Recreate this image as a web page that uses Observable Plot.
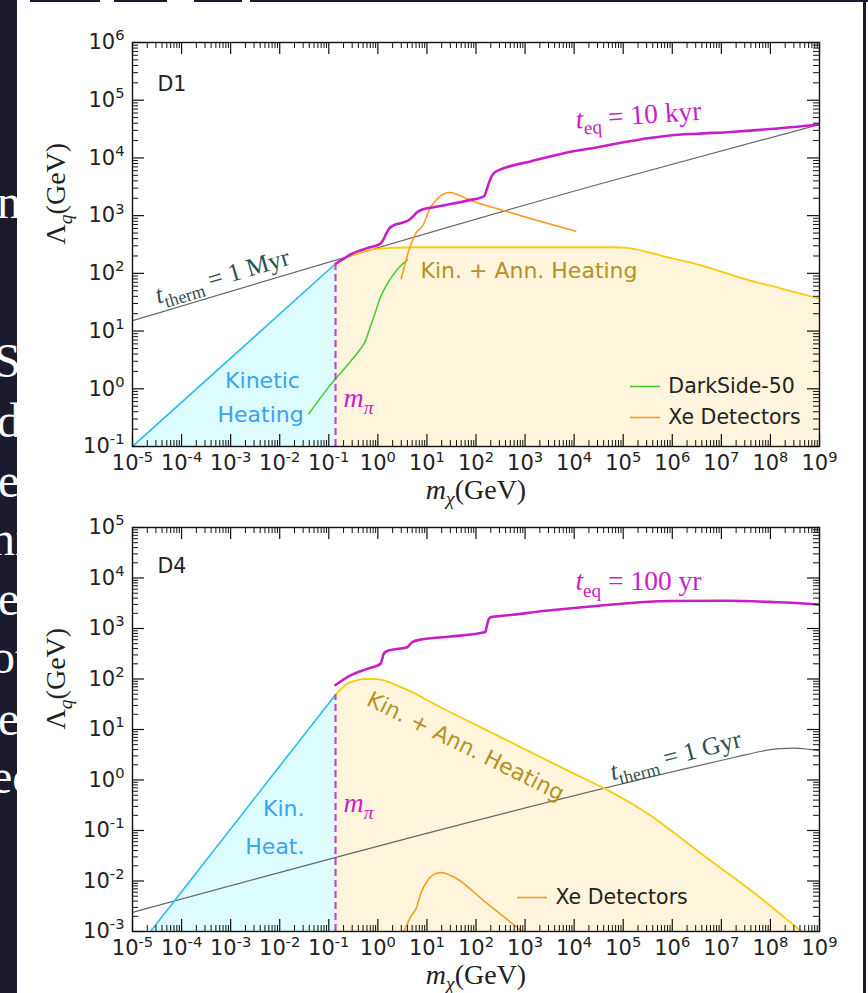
<!DOCTYPE html>
<html>
<head>
<meta charset="utf-8">
<script src="https://cdn.jsdelivr.net/npm/d3@7"></script>
<script src="https://cdn.jsdelivr.net/npm/@observablehq/plot@0.6"></script>
<style>
  html, body { margin: 0; padding: 0; background: #fff; overflow: hidden; width: 868px; height: 993px; }
  #wrap { position: relative; width: 868px; height: 993px; }
  #wrap > svg { position: absolute; left: 0; }
</style>
</head>
<body>
<div id="wrap"></div>
<script>
// ---- tick labels (decade exponents) ----
const X_EXP = d3.range(-5, 10);        // 10^-5 … 10^9 GeV
const Y_EXP_D1 = d3.range(-1, 7);      // 10^-1 … 10^6 GeV
const Y_EXP_D4 = d3.range(-3, 6);      // 10^-3 … 10^5 GeV

// pion mass, log10(m/GeV)
const LOG_M_PI = -0.863;

// ---- curves, as [log10(mχ / GeV), log10(Λq / GeV)] ----
// operator D1
const d1_teq = [
  [-0.863, 2.166], [-0.7, 2.25], [-0.557, 2.327], [-0.35, 2.40], [-0.217, 2.437],
  [0.054, 2.515], [0.11, 2.58], [0.16, 2.67], [0.224, 2.77], [0.32, 2.83],
  [0.46, 2.87], [0.63, 2.92], [0.72, 2.99], [0.80, 3.06], [0.92, 3.11],
  [1.14, 3.147], [1.41, 3.19], [1.82, 3.26], [2.17, 3.34], [2.21, 3.43],
  [2.26, 3.56], [2.31, 3.67], [2.37, 3.74], [2.47, 3.79], [2.63, 3.84],
  [3.11, 3.94], [3.79, 4.08], [4.5, 4.19], [5.01, 4.27], [5.5, 4.34],
  [5.96, 4.39], [6.5, 4.42], [7.19, 4.45], [8.0, 4.50], [9.0, 4.58]
];
const d1_therm = [[-5, 1.18], [4.54, 3.553], [9, 4.58]];
const d1_kin = [[-5, -1], [LOG_M_PI, 2.166]];
const d1_kinAnn = [
  [-0.863, 2.166], [-0.7, 2.25], [-0.49, 2.32], [-0.3, 2.38], [-0.15, 2.41],
  [0.26, 2.44], [0.8, 2.452], [4.8, 2.452], [5.08, 2.44], [5.5, 2.37],
  [5.9, 2.28], [6.58, 2.14], [7.46, 1.906], [8.2, 1.74], [9, 1.565]
];
const d1_darkside = [
  [-1.407, -0.433], [-1.1, -0.08], [-0.863, 0.173], [-0.6, 0.43], [-0.354, 0.693],
  [-0.25, 0.83], [-0.18, 1.01], [-0.06, 1.3], [0.054, 1.588], [0.18, 1.8],
  [0.325, 1.99], [0.45, 2.12], [0.6, 2.235]
];
const d1_xenon = [
  [0.475, 1.906], [0.55, 2.15], [0.63, 2.397], [0.767, 2.686], [0.937, 2.86],
  [1.04, 3.09], [1.21, 3.29], [1.35, 3.38], [1.47, 3.40], [1.6, 3.37],
  [1.82, 3.29], [2.63, 3.07], [4.03, 2.73]
];

// operator D4
const d4_teq = [
  [-0.863, 1.88], [-0.557, 2.07], [-0.217, 2.20], [0.054, 2.30], [0.09, 2.40],
  [0.12, 2.50], [0.18, 2.55], [0.29, 2.58], [0.6, 2.63], [0.65, 2.68],
  [0.70, 2.73], [0.87, 2.78], [1.48, 2.84], [2.19, 2.93], [2.22, 3.05],
  [2.26, 3.19], [2.32, 3.23], [2.43, 3.24], [3.52, 3.36], [4.5, 3.45],
  [5.35, 3.52], [6.0, 3.545], [7.12, 3.55], [8.14, 3.52], [8.6, 3.50], [9, 3.475]
];
const d4_therm = [[-5, -2.62], [7.3, 0.455], [7.8, 0.565], [8.2, 0.62], [8.5, 0.63], [8.8, 0.605], [9, 0.584]];
const d4_kin = [[-4.633, -3], [LOG_M_PI, 1.69]];
const d4_kinAnn = [
  [-0.863, 1.69], [-0.625, 1.905], [-0.45, 1.97], [-0.286, 2.0], [-0.014, 1.996],
  [0.2, 1.95], [0.394, 1.87], [0.7, 1.74], [1.14, 1.51], [2.5, 0.85],
  [3.86, 0.19], [4.7, -0.21], [5.0, -0.37], [5.49, -0.66], [6.0, -1.02],
  [6.51, -1.40], [7.87, -2.39], [8.61, -2.98], [8.7, -3.05]
];
const d4_xenon = [
  [0.53, -3.0], [0.664, -2.72], [0.79, -2.52], [0.87, -2.26], [0.97, -2.06],
  [1.07, -1.92], [1.2, -1.845], [1.3, -1.835], [1.41, -1.86], [1.55, -1.92],
  [2.23, -2.45], [2.94, -3.0]
];

// ---- styling ----
const C = {
  teq: "#c81ec8", mpi: "#cc44cc", kin: "#2bbcf0", kinFill: "#dcfcfd",
  ann: "#fbcb0a", annFill: "#fff5dc", therm: "#666666", thermText: "#2f4f4f",
  green: "#44cc33", orange: "#ff9a22", kinText: "#3aa2f2", annText: "#b8901e"
};
const SERIF = "'Liberation Serif', 'DejaVu Serif', serif";
const SANS = "'DejaVu Sans', sans-serif";
const W = 868, ML = 132, MR = 49;

const toPt = ([a, b]) => ({m: 10 ** a, L: 10 ** b});
const P = v => 10 ** v;

function panel(cfg) {
  const iw = W - ML - MR;
  const ih = cfg.height - cfg.mt - cfg.mb;
  const yExp = cfg.yExp;
  const yMin = P(yExp[0]), yMax = P(yExp[yExp.length - 1]);
  const xMajor = X_EXP.map(P), yMajor = yExp.map(P);
  const minors = ex => ex.slice(0, -1).flatMap(e => d3.range(2, 10).map(k => k * P(e)));
  const xMinor = minors(X_EXP), yMinor = minors(yExp);
  const MAJ = 12, MIN = 6;
  const fmt = d => `10^{${Math.round(Math.log10(d))}}`;
  const line = (data, stroke, w, extra = {}) =>
    Plot.line(data.map(toPt), {x: "m", y: "L", stroke, strokeWidth: w, clip: true, curve: "monotone-x", ...extra});

  const marks = [
    // shaded regions
    Plot.areaY(cfg.kinAnn.map(toPt), {x: "m", y1: yMin, y2: "L", fill: C.annFill, clip: true, curve: "monotone-x"}),
    Plot.areaY(cfg.kin.map(toPt), {x: "m", y1: yMin, y2: "L", fill: C.kinFill, clip: true}),
    // thermalisation contour
    line(cfg.therm, C.therm, 1.2),
    // heating reach
    line(cfg.kin, C.kin, 1.6, {curve: "linear"}),
    line(cfg.kinAnn, C.ann, 1.8),
    // direct detection limits
    ...(cfg.darkside ? [line(cfg.darkside, C.green, 1.5)] : []),
    line(cfg.xenon, C.orange, 1.6),
    // equilibration contour
    line(cfg.teq, C.teq, 2.6),
    // pion mass
    Plot.ruleX([P(LOG_M_PI)], {y1: yMin, y2: P(cfg.kin[1][1]), stroke: C.mpi, strokeWidth: 2.2, strokeDasharray: "7,4"}),
    // in-pointing ticks on all four sides
    Plot.tickX(xMajor, {insetTop: ih - MAJ, stroke: "#111", strokeWidth: 1.2}),
    Plot.tickX(xMinor, {insetTop: ih - MIN, stroke: "#111", strokeWidth: 1}),
    Plot.tickX(xMajor, {insetBottom: ih - MAJ, stroke: "#111", strokeWidth: 1.2}),
    Plot.tickX(xMinor, {insetBottom: ih - MIN, stroke: "#111", strokeWidth: 1}),
    Plot.tickY(yMajor, {insetRight: iw - MAJ, stroke: "#111", strokeWidth: 1.2}),
    Plot.tickY(yMinor, {insetRight: iw - MIN, stroke: "#111", strokeWidth: 1}),
    Plot.tickY(yMajor, {insetLeft: iw - MAJ, stroke: "#111", strokeWidth: 1.2}),
    Plot.tickY(yMinor, {insetLeft: iw - MIN, stroke: "#111", strokeWidth: 1}),
    Plot.frame({stroke: "#111", strokeWidth: 1.4}),
    Plot.axisX({ticks: xMajor, tickSize: 0, tickPadding: 9, tickFormat: fmt, label: null, fontSize: 21}),
    Plot.axisY({ticks: yMajor, tickSize: 0, tickPadding: 8, tickFormat: fmt, label: null, fontSize: 21}),
    Plot.text(["$m$_{$χ$}(GeV)"], {frameAnchor: "bottom", dy: 52, fontFamily: SERIF, fontSize: 28, fill: "#222"}),
    Plot.text(["Λ_{$q$}(GeV)"], {frameAnchor: "left", dx: -76, rotate: -90, fontFamily: SERIF, fontSize: 28, fill: "#222"}),
    ...cfg.labels
  ];

  return Plot.plot({
    width: W, height: cfg.height,
    marginLeft: ML, marginRight: MR, marginTop: cfg.mt, marginBottom: cfg.mb,
    x: {type: "log", domain: [P(X_EXP[0]), P(X_EXP[X_EXP.length - 1])]},
    y: {type: "log", domain: [yMin, yMax]},
    style: {fontFamily: SANS, fontSize: "21px", color: "#222", background: "transparent", overflow: "visible"},
    marks
  });
}

const label = (txt, lx, ly, o) => Plot.text([txt], {x: P(lx), y: P(ly), ...o});

const panels = [
  {
    top: 0, height: 500, mt: 42, mb: 54, yExp: Y_EXP_D1,
    teq: d1_teq, therm: d1_therm, kin: d1_kin, kinAnn: d1_kinAnn, darkside: d1_darkside, xenon: d1_xenon,
    labels: [
      label("D1", -4.49, 5.27, {textAnchor: "start", fontSize: 20.5, fill: "#222"}),
      label("$t$_{therm} = 1 Myr", -3.17, 1.95, {rotate: -16.5, fontFamily: SERIF, fontSize: 25.5, fill: C.thermText}),
      label("Kinetic", -2.35, 0.144, {fontSize: 22, fill: C.kinText}),
      label("Heating", -2.39, -0.445, {fontSize: 22, fill: C.kinText}),
      label("$m$_{$π$}", -0.70, -0.168, {textAnchor: "start", fontFamily: SERIF, fontSize: 28, fill: C.teq}),
      label("Kin. + Ann. Heating", 0.869, 2.033, {textAnchor: "start", fontSize: 22, fill: C.annText}),
      label("$t$_{eq} = 10 kyr", 5.31, 4.74, {rotate: -4, fontFamily: SERIF, fontSize: 27.5, fill: C.teq}),
      Plot.ruleY([P(0.04)], {x1: P(5.149), x2: P(5.76), stroke: C.green, strokeWidth: 1.6}),
      label("DarkSide-50", 5.92, 0.04, {textAnchor: "start", fontSize: 20.5, fill: "#222"}),
      Plot.ruleY([P(-0.497)], {x1: P(5.149), x2: P(5.76), stroke: C.orange, strokeWidth: 1.6}),
      label("Xe Detectors", 5.92, -0.497, {textAnchor: "start", fontSize: 20.5, fill: "#222"})
    ]
  },
  {
    top: 500, height: 493, mt: 27, mb: 62, yExp: Y_EXP_D4,
    teq: d4_teq, therm: d4_therm, kin: d4_kin, kinAnn: d4_kinAnn, darkside: null, xenon: d4_xenon,
    labels: [
      label("D4", -4.49, 4.228, {textAnchor: "start", fontSize: 20.5, fill: "#222"}),
      label("$t$_{eq} = 100 yr", 5.31, 3.93, {fontFamily: SERIF, fontSize: 27.5, fill: C.teq}),
      label("Kin. + Ann. Heating", 1.786, 0.663, {rotate: 26.5, fontSize: 22, fill: C.annText}),
      label("$t$_{therm} = 1 Gyr", 6.066, 0.485, {rotate: -14.5, fontFamily: SERIF, fontSize: 25.5, fill: C.thermText}),
      label("Kin.", -1.495, -0.564, {textAnchor: "end", fontSize: 22, fill: C.kinText}),
      label("Heat.", -1.495, -1.317, {textAnchor: "end", fontSize: 22, fill: C.kinText}),
      label("$m$_{$π$}", -0.70, -0.465, {textAnchor: "start", fontFamily: SERIF, fontSize: 28, fill: C.teq}),
      Plot.ruleY([P(-2.327)], {x1: P(2.846), x2: P(3.457), stroke: C.orange, strokeWidth: 1.6}),
      label("Xe Detectors", 3.62, -2.327, {textAnchor: "start", fontSize: 20.5, fill: "#222"})
    ]
  }
];

// Turn "$…$" (italic), "_{…}" (subscript) and "^{…}" (superscript) into tspans.
function richText(svg) {
  const NS = "http://www.w3.org/2000/svg";
  svg.querySelectorAll("text").forEach(t => {
    const s = t.textContent;
    if (!/[_^]\{|\$/.test(s)) return;
    const fs = parseFloat(getComputedStyle(t).fontSize);
    const runs = [];
    let italic = false, level = 0, buf = "";
    const flush = () => { if (buf) runs.push({text: buf, italic, level}); buf = ""; };
    for (let i = 0; i < s.length; i++) {
      const c = s[i];
      if ((c === "_" || c === "^") && s[i + 1] === "{") { flush(); level = c === "_" ? -1 : 1; i++; }
      else if (c === "}" && level) { flush(); level = 0; }
      else if (c === "$") { flush(); italic = !italic; }
      else buf += c;
    }
    flush();
    while (t.firstChild) t.removeChild(t.firstChild);
    let shift = 0;
    for (const r of runs) {
      const ts = document.createElementNS(NS, "tspan");
      const target = r.level === 1 ? -0.42 * fs : r.level === -1 ? 0.24 * fs : 0;
      if (target !== shift) ts.setAttribute("dy", (target - shift).toFixed(2));
      shift = target;
      if (r.level) ts.setAttribute("font-size", (0.7 * fs).toFixed(2));
      if (r.italic) ts.setAttribute("font-style", "italic");
      ts.textContent = r.text;
      t.appendChild(ts);
    }
  });
}

const wrap = document.getElementById("wrap");
for (const cfg of panels) {
  const svg = panel(cfg);
  svg.style.top = cfg.top + "px";
  wrap.appendChild(svg);
  richText(svg);
}

// slide backdrop showing at the edges of the figure
const edge = d3.select(wrap).append("svg")
  .attr("width", W).attr("height", 993)
  .style("top", "0px").style("pointer-events", "none");
const DARK = "#1c1b2e";
edge.append("rect").attr("x", 0).attr("y", 0).attr("width", 17).attr("height", 993).attr("fill", DARK);
for (const [a, b] of [[30, 100], [114, 167], [194, 242], [250, 868]])
  edge.append("rect").attr("x", a).attr("y", 0).attr("width", b - a).attr("height", 2).attr("fill", DARK);
edge.append("rect").attr("x", 863).attr("y", 0).attr("width", 3).attr("height", 993).attr("fill", DARK);
edge.append("clipPath").attr("id", "strip").append("rect").attr("width", 17).attr("height", 993);
const words = edge.append("g").attr("clip-path", "url(#strip)")
  .attr("fill", "#fff").attr("font-family", SERIF).attr("font-size", 48);
for (const [w, y, x] of [["n", 218, -3], ["S", 377, -6], ["d", 437, -3], ["e", 497, -2], ["ni", 555, -9],
                         ["e", 615, -2], ["ot", 673, -9], ["e", 735, -2], ["ec", 793, -9]])
  words.append("text").attr("x", x).attr("y", y).text(w);
</script>
</body>
</html>
